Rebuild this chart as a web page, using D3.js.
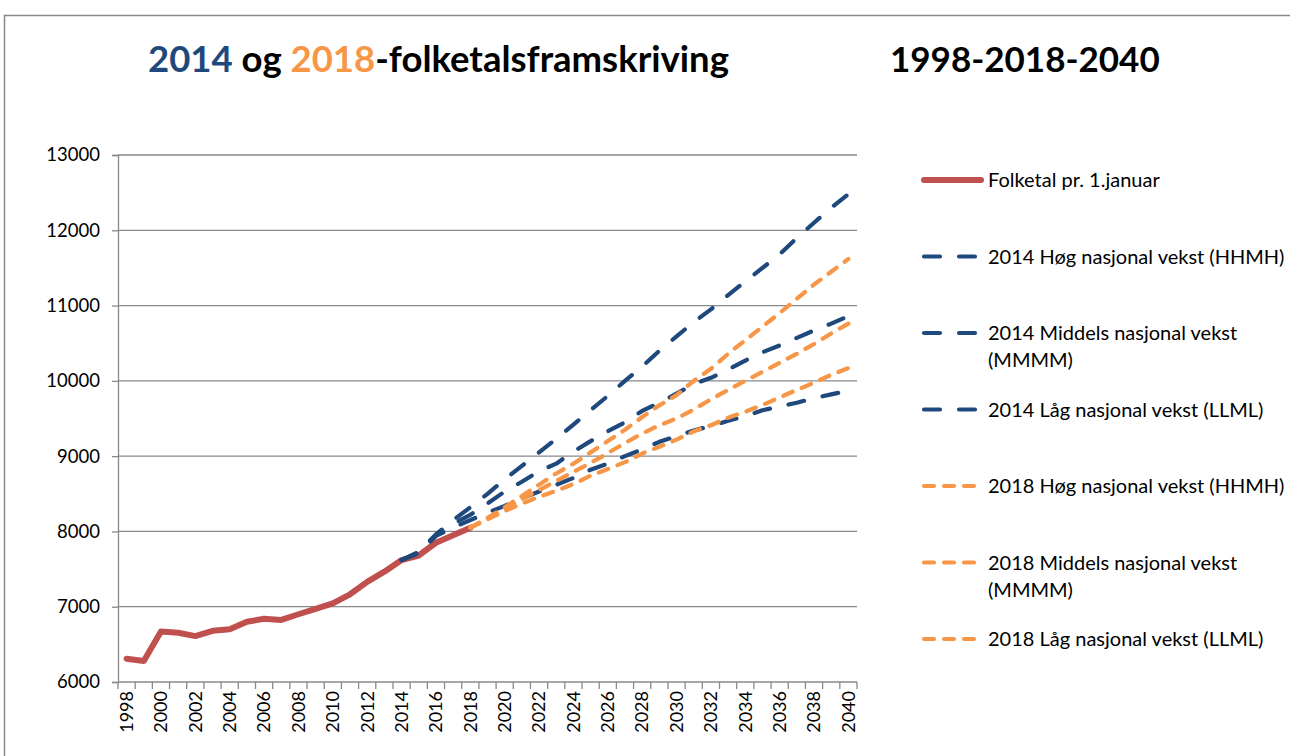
<!DOCTYPE html>
<meta charset="utf-8">
<style>
body { margin: 0; background: #fff; }
text { font-family: Lato, "Open Sans", sans-serif; fill: #000; }
</style>
<body>
<svg width="1290" height="756"></svg>
</body>
<script src="https://d3js.org/d3.v7.min.js"></script>
<script>
// categories
const years = d3.range(1998, 2041);
const yTicks = [6000, 7000, 8000, 9000, 10000, 11000, 12000, 13000];

// folketal pr. 1. januar, 1998-2018
const folketal = [6310, 6280, 6670, 6655, 6610, 6680, 6700, 6800, 6840, 6825, 6900,
  6970, 7045, 7165, 7330, 7465, 7620, 7680, 7850, 7950, 8050];

// 2014-framskriving, 2014-2040
const hog2014 = [7620, 7730, 7960, 8150, 8320, 8500, 8690, 8870, 9050, 9230, 9420,
  9610, 9800, 10000, 10190, 10400, 10590, 10780, 10950, 11140, 11320, 11500, 11680,
  11900, 12100, 12300, 12480];
const middels2014 = [7620, 7720, 7950, 8100, 8220, 8370, 8530, 8660, 8800, 8900, 9060,
  9200, 9330, 9450, 9600, 9710, 9830, 9960, 10040, 10150, 10270, 10380, 10470,
  10570, 10670, 10760, 10860];
const laag2014 = [7620, 7710, 7940, 8050, 8150, 8250, 8340, 8440, 8530, 8620, 8710,
  8820, 8900, 9000, 9090, 9190, 9265, 9340, 9400, 9470, 9530, 9610, 9660,
  9710, 9770, 9820, 9870];

// 2018-framskriving, 2018-2040
const hog2018 = [8050, 8180, 8320, 8470, 8620, 8770, 8900, 9050, 9200, 9350, 9520,
  9675, 9810, 10000, 10160, 10360, 10540, 10720, 10900, 11090, 11280, 11450, 11620];
const middels2018 = [8050, 8170, 8300, 8430, 8550, 8670, 8790, 8910, 9040, 9175, 9300,
  9410, 9500, 9620, 9755, 9880, 10000, 10120, 10240, 10360, 10490, 10630, 10760];
const laag2018 = [8050, 8160, 8270, 8370, 8460, 8540, 8630, 8740, 8830, 8920, 9035,
  9124, 9220, 9330, 9410, 9510, 9590, 9680, 9780, 9880, 9975, 10080, 10170];

const red = "#C0504D", blue = "#1F497D", orange = "#F79646", grid = "#898989";

const series = [
  {name: ["Folketal pr. 1.januar"], start: 1998, values: folketal, color: red, width: 6, dash: null},
  {name: ["2014 Høg nasjonal vekst (HHMH)"], start: 2014, values: hog2014, color: blue, width: 4.2, dash: "16 19"},
  {name: ["2014 Middels nasjonal vekst", "(MMMM)"], start: 2014, values: middels2014, color: blue, width: 4.2, dash: "16 19"},
  {name: ["2014 Låg nasjonal vekst (LLML)"], start: 2014, values: laag2014, color: blue, width: 4.2, dash: "16 19"},
  {name: ["2018 Høg nasjonal vekst (HHMH)"], start: 2018, values: hog2018, color: orange, width: 4.2, dash: "10 10"},
  {name: ["2018 Middels nasjonal vekst", "(MMMM)"], start: 2018, values: middels2018, color: orange, width: 4.2, dash: "10 10"},
  {name: ["2018 Låg nasjonal vekst (LLML)"], start: 2018, values: laag2018, color: orange, width: 4.2, dash: "10 10"}
];

const svg = d3.select("svg");

// outer frame
svg.append("rect")
  .attr("x", 4.5).attr("y", 15.5)
  .attr("width", 1300).attr("height", 800)
  .attr("fill", "none").attr("stroke", grid).attr("stroke-width", 1.5);

// title
const title = svg.append("text")
  .attr("x", 148).attr("y", 72)
  .style("font-size", "36.5px").style("font-weight", "bold");
title.append("tspan").style("fill", blue).text("2014");
title.append("tspan").text(" og ");
title.append("tspan").style("fill", orange).text("2018");
title.append("tspan").text("-folketalsframskriving");

svg.append("text")
  .attr("x", 890).attr("y", 72)
  .style("font-size", "35px").style("font-weight", "bold")
  .text("1998-2018-2040");

const x = d3.scaleBand().domain(years).range([118, 857]);
const xc = yr => x(yr) + x.bandwidth() / 2;
const y = d3.scaleLinear().domain([6000, 13000]).range([682, 155]);

// gridlines
svg.append("g").selectAll("line")
  .data(yTicks.slice(1))
  .join("line")
  .attr("x1", 118).attr("x2", 857)
  .attr("y1", d => y(d)).attr("y2", d => y(d))
  .attr("stroke", grid).attr("stroke-width", 1.3);

// y axis
const yAxis = svg.append("g")
  .attr("transform", "translate(118,0)")
  .call(d3.axisLeft(y).tickValues(yTicks).tickSize(6).tickPadding(12).tickFormat(d3.format("d")));
yAxis.selectAll("line, path").attr("stroke", grid).attr("stroke-width", 1.3);
yAxis.selectAll("text").style("font-size", "18.5px").style("font-family", "Lato, sans-serif").attr("fill", "#000");

// x axis
const xg = svg.append("g");
xg.append("line")
  .attr("x1", 118).attr("x2", 857).attr("y1", 682).attr("y2", 682)
  .attr("stroke", grid).attr("stroke-width", 1.3);
xg.selectAll("line.tick")
  .data(years.concat([null]))
  .join("line")
  .attr("class", "tick")
  .attr("x1", d => d === null ? 857 : x(d))
  .attr("x2", d => d === null ? 857 : x(d))
  .attr("y1", 682).attr("y2", 689)
  .attr("stroke", grid).attr("stroke-width", 1.3);
xg.selectAll("text")
  .data(years.filter(d => d % 2 === 0))
  .join("text")
  .attr("transform", d => `translate(${xc(d)},691) rotate(-90)`)
  .attr("text-anchor", "end")
  .attr("dy", "0.35em")
  .style("font-size", "18px")
  .text(d => d);

// lines
const line = d3.line()
  .x(d => xc(d.year))
  .y(d => y(d.value));

svg.append("g").selectAll("path")
  .data(series)
  .join("path")
  .attr("d", s => line(s.values.map((v, i) => ({year: s.start + i, value: v}))))
  .attr("fill", "none")
  .attr("stroke", s => s.color)
  .attr("stroke-width", s => s.width)
  .attr("stroke-dasharray", s => s.dash)
  .attr("stroke-linecap", "round")
  .attr("stroke-linejoin", "round");

// legend
const legend = svg.append("g").attr("transform", "translate(922,180)");
const item = legend.selectAll("g")
  .data(series)
  .join("g")
  .attr("transform", (d, i) => `translate(0,${i * 76.5})`);
item.append("line")
  .attr("x1", 2).attr("x2", 59).attr("y1", 0).attr("y2", 0)
  .attr("stroke", d => d.color)
  .attr("stroke-width", d => d.width)
  .attr("stroke-dasharray", d => d.dash)
  .attr("stroke-linecap", "round");
item.append("text")
  .attr("x", 66).attr("y", 7)
  .style("font-size", "20px")
  .selectAll("tspan")
  .data(d => d.name)
  .join("tspan")
  .attr("x", 66)
  .attr("dy", (d, i) => i === 0 ? 0 : 27)
  .text(d => d);
</script>
